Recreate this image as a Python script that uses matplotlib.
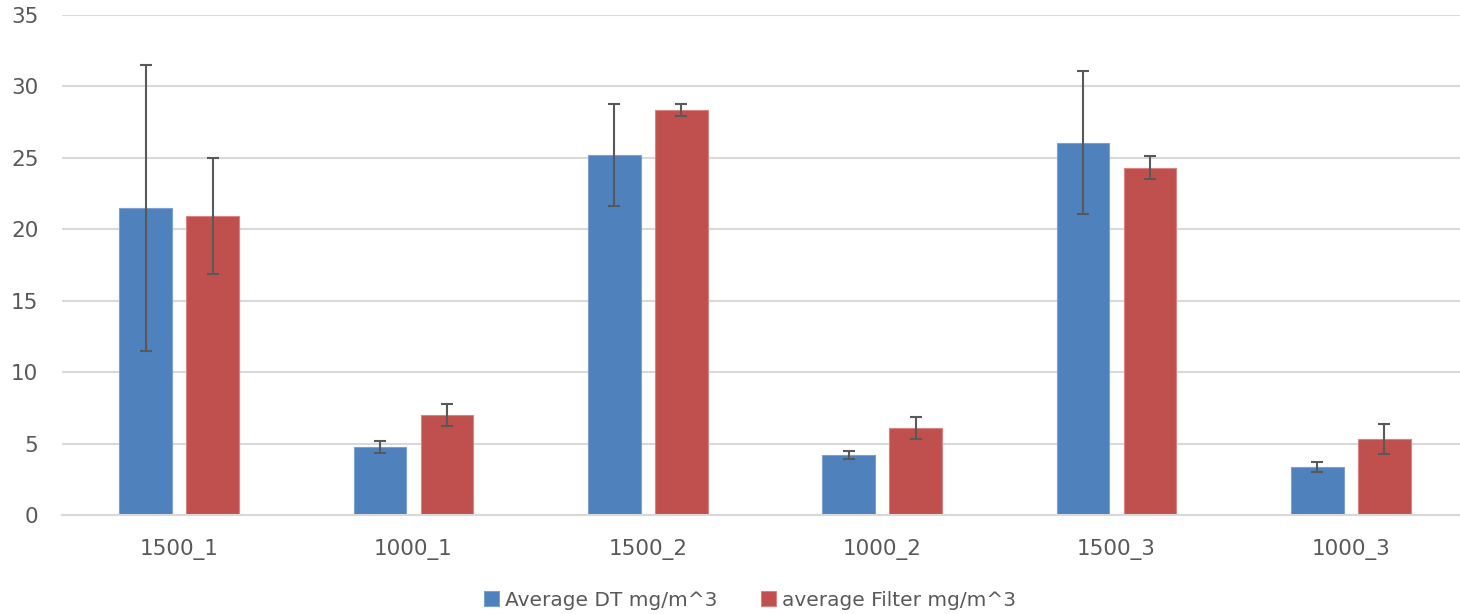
import matplotlib
matplotlib.use("Agg")
import matplotlib.pyplot as plt
import numpy as np

categories = ["1500_1", "1000_1", "1500_2", "1000_2", "1500_3", "1000_3"]
dt_values = [21.5, 4.76, 25.2, 4.18, 26.05, 3.33]
dt_errors = [10.0, 0.40, 3.55, 0.28, 5.0, 0.35]
filter_values = [20.93, 7.0, 28.35, 6.11, 24.3, 5.3]
filter_errors = [4.03, 0.75, 0.43, 0.77, 0.8, 1.05]
series_names = ["Average DT mg/m^3", "average Filter mg/m^3"]
yticks = [0, 5, 10, 15, 20, 25, 30, 35]

plt.rcParams['font.family'] = ['DejaVu Sans']
text_color = "#595959"

fig = plt.figure(figsize=(14.6, 6.14), dpi=100)
W, H = 1460, 614
ax = fig.add_axes([62 / W, 1 - 515 / H, (1468 - 62) / W, (515 - 15) / H])

x = np.arange(len(categories))
bw = 0.226
off = 0.143
err_kw = dict(ecolor="#595959", elinewidth=1.5, capsize=4.6, capthick=1.5)
b1 = ax.bar(x - off, dt_values, bw, color="#4F81BD", edgecolor="#7da0d0", linewidth=0.8,
            yerr=dt_errors, error_kw=err_kw, label=series_names[0], zorder=2)
b2 = ax.bar(x + off, filter_values, bw, color="#C0504D", edgecolor="#d98482", linewidth=0.8,
            yerr=filter_errors, error_kw=err_kw, label=series_names[1], zorder=2)

ax.set_xlim(-0.5, len(categories) - 0.5)
ax.set_ylim(0, 35)
ax.set_yticks(yticks)
ax.set_yticklabels([str(v) for v in yticks])
ax.set_xticks(x)
ax.set_xticklabels(categories)
ax.grid(axis="y", color="#D9D9D9", linewidth=1.5, zorder=0)
ax.set_axisbelow(True)
for s in ["top", "right", "left"]:
    ax.spines[s].set_visible(False)
ax.spines["bottom"].set_color("#D9D9D9")
ax.spines["bottom"].set_linewidth(1.5)
ax.tick_params(axis="both", length=0, labelsize=15.5, colors=text_color)
ax.tick_params(axis="y", pad=17)
ax.tick_params(axis="x", pad=17)

fig.legend(handles=[b1, b2], labels=series_names, loc="center",
           bbox_to_anchor=(750 / W, 1 - 600 / H), ncol=2, frameon=False,
           fontsize=14.5, labelcolor=text_color, handlelength=0.75, handleheight=0.75,
           handletextpad=0.3, columnspacing=2.2)

fig.savefig("out.png", dpi=100)
